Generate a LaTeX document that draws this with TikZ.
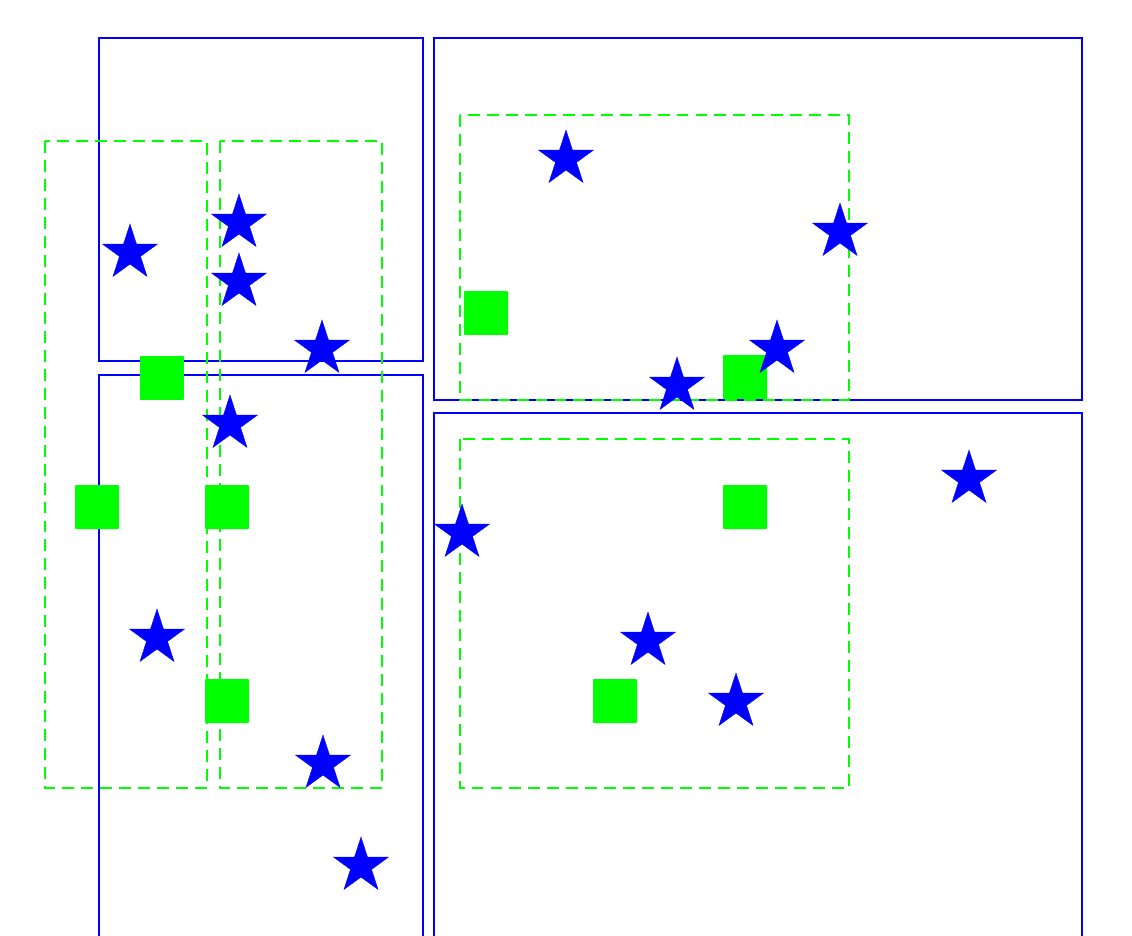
\documentclass[tikz,border=0pt]{standalone}
\usetikzlibrary{shapes.geometric}
\tikzset{
 cell/.style={draw=blue,line width=0.65pt},
 bbox/.style={draw=green,line width=0.7pt,dash pattern=on 6.8pt off 4pt},
 starmark/.style={star,star points=5,star point ratio=2.618,fill=blue,draw=blue,line width=0.2pt,inner sep=0pt,minimum size=1.16cm},
 sqmark/.style={rectangle,fill=green,inner sep=0pt,minimum size=0.88cm,rounded corners=0.5pt},
}
\begin{document}
\begin{tikzpicture}[x=0.02cm,y=-0.02cm]
 \useasboundingbox (0,0) rectangle (1132,936); \clip (0,0) rectangle (1132,936);
 % leaf cells
 \draw[cell] (99,38) rectangle (423,361); \draw[cell] (434,38) rectangle (1082,400);
 \draw[cell] (99,375) rectangle (423,980); \draw[cell] (434,413) rectangle (1082,980);
 % query boxes
 \draw[bbox] (45,141) rectangle (207,788); \draw[bbox] (220,141) rectangle (382,788);
 \draw[bbox] (460,115) rectangle (849,400); \draw[bbox] (460,439) rectangle (849,788);
 % squares, then stars on top
 \foreach \x/\y [count=\i] in {162/378,97/507,227/507,227/701,486/313,745/377,745/507,615/701}
  {\node[sqmark] (sq\i) at (\x,\y) {};}
 \foreach \x/\y [count=\i] in {130/253,239/223,239/282,322/349,230/424,157/638,323/764,361/866,
  566/159,840/232,777/349,677/386,969/479,462/533,648/641,736/702}
  {\node[starmark] (st\i) at (\x,\y) {};}
\end{tikzpicture}
\end{document}
